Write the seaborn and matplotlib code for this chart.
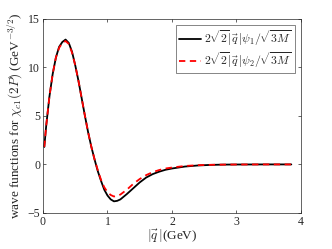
import matplotlib
matplotlib.use("Agg")
from matplotlib import pyplot as plt
import pandas as pd
import seaborn as sns

q = [0.02, 0.05, 0.1, 0.15, 0.2, 0.25, 0.3, 0.35, 0.4, 0.45, 0.5, 0.55, 0.6, 0.65,
     0.7, 0.75, 0.8, 0.85, 0.9, 0.95, 1.0, 1.05, 1.1, 1.15, 1.2, 1.3, 1.4, 1.5,
     1.6, 1.7, 1.8, 1.9, 2.0, 2.2, 2.4, 2.6, 2.8, 3.0, 3.5, 3.85]
psi1 = [1.8, 4.0, 7.0, 9.3, 11.0, 12.1, 12.6, 12.85, 12.5, 11.6, 10.2, 8.6, 6.8, 5.0,
        3.3, 1.8, 0.5, -0.7, -1.7, -2.6, -3.2, -3.6, -3.8, -3.75, -3.6, -3.05, -2.45, -1.85,
        -1.35, -1.0, -0.75, -0.55, -0.42, -0.22, -0.11, -0.05, -0.02, -0.01, 0.0, 0.0]
psi2 = [1.8, 4.0, 7.0, 9.3, 11.0, 12.0, 12.5, 12.7, 12.4, 11.5, 10.2, 8.6, 6.8, 5.0,
        3.3, 1.8, 0.5, -0.6, -1.6, -2.35, -2.85, -3.15, -3.3, -3.25, -3.1, -2.6, -2.0, -1.5,
        -1.1, -0.8, -0.58, -0.42, -0.32, -0.16, -0.08, -0.04, -0.02, -0.01, 0.0, 0.0]

lab1 = r"$2\sqrt{2}|\vec{q}\,|\psi_1/\sqrt{3M}$"
lab2 = r"$2\sqrt{2}|\vec{q}\,|\psi_2/\sqrt{3M}$"

df = pd.DataFrame({"q": q * 2, "val": psi1 + psi2,
                   "curve": [lab1] * len(q) + [lab2] * len(q)})

sns.set_style("ticks")
plt.rcParams["font.family"] = ["Liberation Serif", "DejaVu Serif"]
plt.rcParams["mathtext.fontset"] = "cm"

fig = plt.figure(figsize=(3.32, 2.49), dpi=100)
ax = fig.add_axes([0.1295, 0.1446, 0.7771, 0.7804])
sns.lineplot(data=df, x="q", y="val", hue="curve", style="curve",
             palette=["black", "red"], dashes=[(None, None), (3.5, 2.5)],
             linewidth=1.3, ax=ax)

ax.set_xlim(0, 4)
ax.set_ylim(-5, 15)
ax.set_xticks([0, 1, 2, 3, 4])
ax.set_yticks([-5, 0, 5, 10, 15])
ax.tick_params(direction="in", length=2.5, width=0.5, labelsize=8.5,
               top=True, right=True, colors="#262626", pad=2)
for s in ax.spines.values():
    s.set_linewidth(0.5)
ax.set_xlabel(r"$|\vec{q}\,|$(GeV)", fontsize=9.5, labelpad=0)
ax.set_ylabel(r"wave functions for $\chi_{c1}(2P)$ (GeV$^{-3/2}$)", fontsize=9.5, labelpad=2)

leg = ax.legend(loc="upper right", fontsize=8.5, fancybox=False, framealpha=1,
                edgecolor="#555555", borderpad=0.3, labelspacing=0.2,
                handlelength=1.8, handletextpad=0.3, borderaxespad=0.5)
leg.get_frame().set_linewidth(0.5)

fig.savefig("out.png", dpi=100)
